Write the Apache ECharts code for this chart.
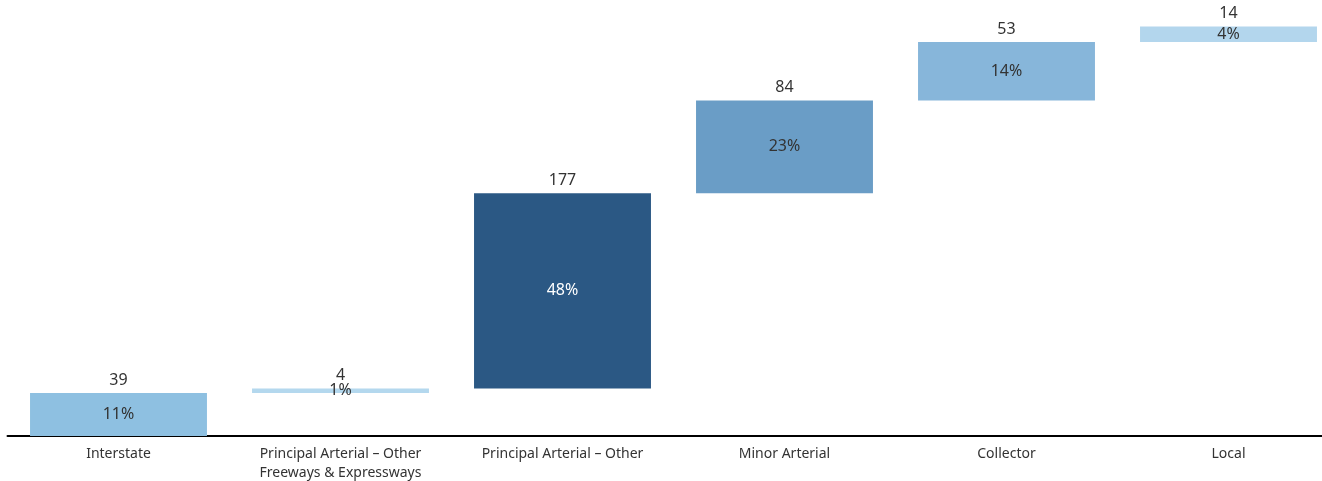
<!DOCTYPE html>
<html>
<head>
<meta charset="utf-8">
<script src="https://cdn.jsdelivr.net/npm/echarts@6/dist/echarts.min.js"></script>
<style>
html,body{margin:0;padding:0;background:#fff;}
#chart{width:1322px;height:481px;}
</style>
</head>
<body>
<div id="chart"></div>
<script>
const categories = ['Interstate', 'Principal Arterial – Other\nFreeways & Expressways', 'Principal Arterial – Other', 'Minor Arterial', 'Collector', 'Local'];
const values = [39, 4, 177, 84, 53, 14];
const percentLabels = ['11%', '1%', '48%', '23%', '14%', '4%'];
const barColors = ['#8ec0e1', '#b4d8ee', '#2b5884', '#6a9dc6', '#87b6da', '#b3d6ed'];
const percentColors = ['#333333', '#333333', '#ffffff', '#333333', '#333333', '#333333'];

const total = values.reduce((a, b) => a + b, 0);
const bases = [];
let run = 0;
values.forEach(v => { bases.push(run); run += v; });

const FONT = "'Noto Sans', 'Open Sans', sans-serif";
const chart = echarts.init(document.getElementById('chart'));
chart.setOption({
  animation: false,
  grid: { left: 7.5, width: 1332, top: 26.5, bottom: 45, outerBoundsMode: 'none', containLabel: false },
  xAxis: {
    type: 'category',
    data: categories,
    axisLine: { show: true, lineStyle: { color: '#000', width: 2 } },
    axisTick: { show: false },
    axisLabel: { color: '#333', fontSize: 14, fontFamily: FONT, margin: 9, lineHeight: 19, interval: 0 }
  },
  yAxis: {
    type: 'value', min: 0, max: total,
    show: false, splitLine: { show: false }
  },
  series: [
    {
      type: 'bar', stack: 'w', barWidth: '79.7%',
      itemStyle: { color: 'transparent' },
      emphasis: { disabled: true },
      data: bases
    },
    {
      type: 'bar', stack: 'w',
      emphasis: { disabled: true },
      data: values.map((v, i) => ({ value: v, itemStyle: { color: barColors[i] },
        label: { color: percentColors[i] } })),
      label: {
        show: true, position: 'inside', fontSize: 16, fontFamily: FONT,
        formatter: p => percentLabels[p.dataIndex]
      }
    },
    {
      type: 'bar', stack: 'w',
      emphasis: { disabled: true },
      itemStyle: { color: 'transparent' },
      data: values.map(() => 0),
      label: {
        show: true, position: 'top', distance: 5, fontSize: 16, fontFamily: FONT, color: '#333',
        formatter: p => String(values[p.dataIndex])
      }
    }
  ]
});
</script>
</body>
</html>
